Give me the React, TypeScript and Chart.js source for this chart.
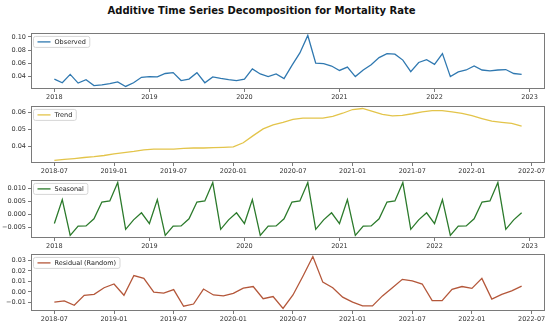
import React, { useEffect, useRef } from "react";
import { Chart, registerables } from "chart.js";

Chart.register(...registerables);

// ---- Data (monthly, index 0 = 2018-01) ----
const observedStart = 0;
const observed = [
  0.0363, 0.0307, 0.0433, 0.0302, 0.0353, 0.0265, 0.0274, 0.0293, 0.0321, 0.0251, 0.0307, 0.039,
  0.040, 0.0395, 0.0447, 0.046, 0.034, 0.0363, 0.046, 0.0307, 0.0395, 0.0372, 0.0353, 0.034,
  0.0363, 0.0516, 0.044, 0.040, 0.044, 0.037, 0.057, 0.0758, 0.1023, 0.0605, 0.0595, 0.056,
  0.0493, 0.0544, 0.040, 0.050, 0.058, 0.0688, 0.0749, 0.074, 0.065, 0.0474, 0.0614, 0.0656,
  0.0586, 0.0749, 0.040, 0.047, 0.050, 0.056, 0.050, 0.0488, 0.050, 0.0507, 0.0447, 0.0433,
];

const trendStart = 6; // 2018-07
const trend = [
  0.0318, 0.0324, 0.0329, 0.0335, 0.034, 0.0347,
  0.0356, 0.0364, 0.0371, 0.038, 0.0385, 0.0385, 0.0385, 0.0389, 0.0391, 0.0391, 0.0393, 0.0395,
  0.0398, 0.0422, 0.0464, 0.0504, 0.0527, 0.0542, 0.056, 0.0567, 0.0567, 0.0567, 0.0578, 0.0596,
  0.0618, 0.0624, 0.0607, 0.0589, 0.058, 0.0584, 0.0593, 0.0604, 0.0611, 0.0611, 0.0604, 0.0595,
  0.0582, 0.0565, 0.0549, 0.0542, 0.0536, 0.052,
];

const seasonalStart = 0;
const seasonal = [
  -0.0034, 0.0057, -0.0079, -0.0044, -0.0043, -0.0016, 0.0048, 0.0052, 0.0122, -0.0056, -0.002, 0.0007,
  -0.0034, 0.0057, -0.0079, -0.0044, -0.0043, -0.0016, 0.0048, 0.0052, 0.0122, -0.0056, -0.002, 0.0007,
  -0.0034, 0.0057, -0.0079, -0.0044, -0.0043, -0.0016, 0.0048, 0.0052, 0.0122, -0.0056, -0.002, 0.0007,
  -0.0034, 0.0057, -0.0079, -0.0044, -0.0043, -0.0016, 0.0048, 0.0052, 0.0122, -0.0056, -0.002, 0.0007,
  -0.0034, 0.0057, -0.0079, -0.0044, -0.0043, -0.0016, 0.0048, 0.0052, 0.0122, -0.0056, -0.002, 0.0007,
];

const residStart = 6;
const residual = [
  -0.0099, -0.0087, -0.0129, -0.0033, -0.0024, 0.0039,
  0.0075, -0.0033, 0.0156, 0.0129, -0.0003, -0.0012, 0.0021, -0.0138, -0.0117, 0.0027, -0.003, -0.0039,
  -0.0015, 0.0036, 0.0051, -0.0066, -0.0045, -0.0159, -0.003, 0.015, 0.0339, 0.0093, 0.0039, -0.0051,
  -0.0099, -0.0135, -0.0135, -0.0039, 0.0039, 0.012, 0.0105, 0.0075, -0.0084, -0.0084, 0.0024, 0.0051,
  0.0033, 0.0129, -0.0069, -0.0024, 0.0009, 0.0054,
];

// ---- Tick definitions ----
const yearTickValues = [0, 12, 24, 36, 48, 60];
const yearTickLabels = ["2018", "2019", "2020", "2021", "2022", "2023"];
const halfYearTickValues = [6, 12, 18, 24, 30, 36, 42, 48, 54];
const halfYearTickLabels = [
  "2018-07", "2019-01", "2019-07", "2020-01", "2020-07", "2021-01", "2021-07", "2022-01", "2022-07",
];
const obsYTicks = [0.04, 0.06, 0.08, 0.1];
const obsYLabels = ["0.04", "0.06", "0.08", "0.10"];
const trendYTicks = [0.04, 0.05, 0.06];
const trendYLabels = ["0.04", "0.05", "0.06"];
const seasYTicks = [-0.005, 0, 0.005, 0.01];
const seasYLabels = ["\u22120.005", "0.000", "0.005", "0.010"];
const residYTicks = [-0.01, 0, 0.01, 0.02, 0.03];
const residYLabels = ["\u22120.01", "0.00", "0.01", "0.02", "0.03"];

const FONT = "DejaVu Sans";
const FRAME = "#7a7a7a";

type PanelCfg = {
  label: string;
  color: string;
  values: number[];
  start: number;
  xTicks: number[];
  xLabels: string[];
  yTicks: number[];
  yLabels: string[];
  top: number;
  bottom: number;
};

const panels: PanelCfg[] = [
  { label: "Observed", color: "#2f78b0", values: observed, start: observedStart, xTicks: yearTickValues, xLabels: yearTickLabels, yTicks: obsYTicks, yLabels: obsYLabels, top: 29, bottom: 89 },
  { label: "Trend", color: "#e3c44a", values: trend, start: trendStart, xTicks: halfYearTickValues, xLabels: halfYearTickLabels, yTicks: trendYTicks, yLabels: trendYLabels, top: 102, bottom: 163 },
  { label: "Seasonal", color: "#2b7a2b", values: seasonal, start: seasonalStart, xTicks: yearTickValues, xLabels: yearTickLabels, yTicks: seasYTicks, yLabels: seasYLabels, top: 176, bottom: 238 },
  { label: "Residual (Random)", color: "#b4573a", values: residual, start: residStart, xTicks: halfYearTickValues, xLabels: halfYearTickLabels, yTicks: residYTicks, yLabels: residYLabels, top: 250, bottom: 311 },
];

const PAD_TOP = 2;
const XAXIS_H = 12;

const framePlugin = {
  id: "panelFrame",
  afterDatasetsDraw(chart: any) {
    const { ctx, chartArea } = chart;
    ctx.save();
    ctx.strokeStyle = FRAME;
    ctx.lineWidth = 1;
    ctx.strokeRect(
      Math.round(chartArea.left) + 0.5,
      Math.round(chartArea.top) + 0.5,
      Math.round(chartArea.right - chartArea.left) - 1,
      Math.round(chartArea.bottom - chartArea.top) - 1
    );
    ctx.restore();
  },
  afterDraw(chart: any) {
    const opts = chart.options.plugins.panelFrame || {};
    const { ctx, chartArea } = chart;
    const label = opts.label as string;
    const color = opts.color as string;
    if (!label) return;
    ctx.save();
    ctx.font = `6.5px "${FONT}"`;
    const tw = ctx.measureText(label).width;
    const x0 = chartArea.left + 2.5;
    const y0 = chartArea.top + 3.5;
    const w = 4 + 13 + 4 + tw + 4;
    const h = 11;
    ctx.beginPath();
    const r = 2;
    ctx.moveTo(x0 + r, y0);
    ctx.lineTo(x0 + w - r, y0);
    ctx.quadraticCurveTo(x0 + w, y0, x0 + w, y0 + r);
    ctx.lineTo(x0 + w, y0 + h - r);
    ctx.quadraticCurveTo(x0 + w, y0 + h, x0 + w - r, y0 + h);
    ctx.lineTo(x0 + r, y0 + h);
    ctx.quadraticCurveTo(x0, y0 + h, x0, y0 + h - r);
    ctx.lineTo(x0, y0 + r);
    ctx.quadraticCurveTo(x0, y0, x0 + r, y0);
    ctx.closePath();
    ctx.fillStyle = "rgba(255,255,255,0.8)";
    ctx.fill();
    ctx.strokeStyle = "#d6d6d6";
    ctx.lineWidth = 1;
    ctx.stroke();
    ctx.strokeStyle = color;
    ctx.lineWidth = 1.3;
    ctx.beginPath();
    ctx.moveTo(x0 + 4, y0 + h / 2);
    ctx.lineTo(x0 + 17, y0 + h / 2);
    ctx.stroke();
    ctx.fillStyle = "#222";
    ctx.textBaseline = "middle";
    ctx.textAlign = "left";
    ctx.fillText(label, x0 + 21, y0 + h / 2 + 0.5);
    ctx.restore();
  },
};

function Panel({ cfg }: { cfg: PanelCfg }) {
  const ref = useRef<HTMLCanvasElement | null>(null);
  useEffect(() => {
    if (!ref.current) return;
    const n = cfg.values.length;
    const xFirst = cfg.start;
    const xLast = cfg.start + n - 1;
    const xm = (xLast - xFirst) * 0.05;
    const vmin = Math.min(...cfg.values);
    const vmax = Math.max(...cfg.values);
    const ym = (vmax - vmin) * 0.05;
    const data = cfg.values.map((v, i) => ({ x: cfg.start + i, y: v }));
    const tickFont = { family: FONT, size: 6.5 };
    const chart = new Chart(ref.current, {
      type: "line",
      data: {
        datasets: [
          {
            label: cfg.label,
            data,
            borderColor: cfg.color,
            borderWidth: 1.3,
            pointRadius: 0,
            tension: 0,
            fill: false,
          },
        ],
      },
      options: {
        animation: false,
        responsive: false,
        maintainAspectRatio: false,
        layout: { padding: { top: PAD_TOP, right: 5, left: 0, bottom: 0 } },
        plugins: {
          legend: { display: false },
          title: { display: false },
          tooltip: { enabled: false },
          panelFrame: { label: cfg.label, color: cfg.color },
        } as any,
        scales: {
          x: {
            type: "linear",
            min: xFirst - xm,
            max: xLast + xm,
            afterBuildTicks: (scale: any) => {
              scale.ticks = cfg.xTicks.map((v) => ({ value: v }));
            },
            afterFit: (scale: any) => {
              scale.height = XAXIS_H;
            },
            ticks: {
              autoSkip: false,
              maxRotation: 0,
              minRotation: 0,
              padding: 1,
              color: "#333",
              font: tickFont,
              callback: (v: any) => {
                const idx = cfg.xTicks.indexOf(Number(v));
                return idx >= 0 ? cfg.xLabels[idx] : "";
              },
            },
            grid: { display: true, drawOnChartArea: false, drawTicks: true, tickLength: 3, color: FRAME },
            border: { display: false },
          },
          y: {
            type: "linear",
            min: vmin - ym,
            max: vmax + ym,
            afterBuildTicks: (scale: any) => {
              scale.ticks = cfg.yTicks.map((v) => ({ value: v }));
            },
            afterFit: (scale: any) => {
              scale.width = 31;
            },
            ticks: {
              autoSkip: false,
              padding: 2,
              color: "#333",
              font: tickFont,
              callback: (v: any) => {
                let best = 0;
                let bd = Infinity;
                cfg.yTicks.forEach((t, i) => {
                  const d = Math.abs(t - Number(v));
                  if (d < bd) {
                    bd = d;
                    best = i;
                  }
                });
                return cfg.yLabels[best];
              },
            },
            grid: { display: true, drawOnChartArea: false, drawTicks: true, tickLength: 3, color: FRAME },
            border: { display: false },
          },
        },
      },
      plugins: [framePlugin],
    });
    return () => chart.destroy();
  }, [cfg]);
  const h = cfg.bottom - cfg.top + PAD_TOP + XAXIS_H;
  return (
    <canvas
      ref={ref}
      width={550}
      height={h}
      style={{ position: "absolute", left: 0, top: cfg.top - PAD_TOP, width: 550, height: h }}
    />
  );
}

export default function App() {
  return (
    <div style={{ position: "absolute", left: 0, top: 0, width: 550, height: 322, background: "#fff", overflow: "hidden" }}>
      <div
        style={{
          position: "absolute",
          left: 0,
          top: 4,
          width: 523,
          textAlign: "center",
          fontFamily: `"${FONT}", sans-serif`,
          fontWeight: "bold",
          fontSize: 10,
          lineHeight: "13px",
          color: "#111",
        }}
      >
        Additive Time Series Decomposition for Mortality Rate
      </div>
      {panels.map((p) => (
        <Panel key={p.label} cfg={p} />
      ))}
    </div>
  );
}
